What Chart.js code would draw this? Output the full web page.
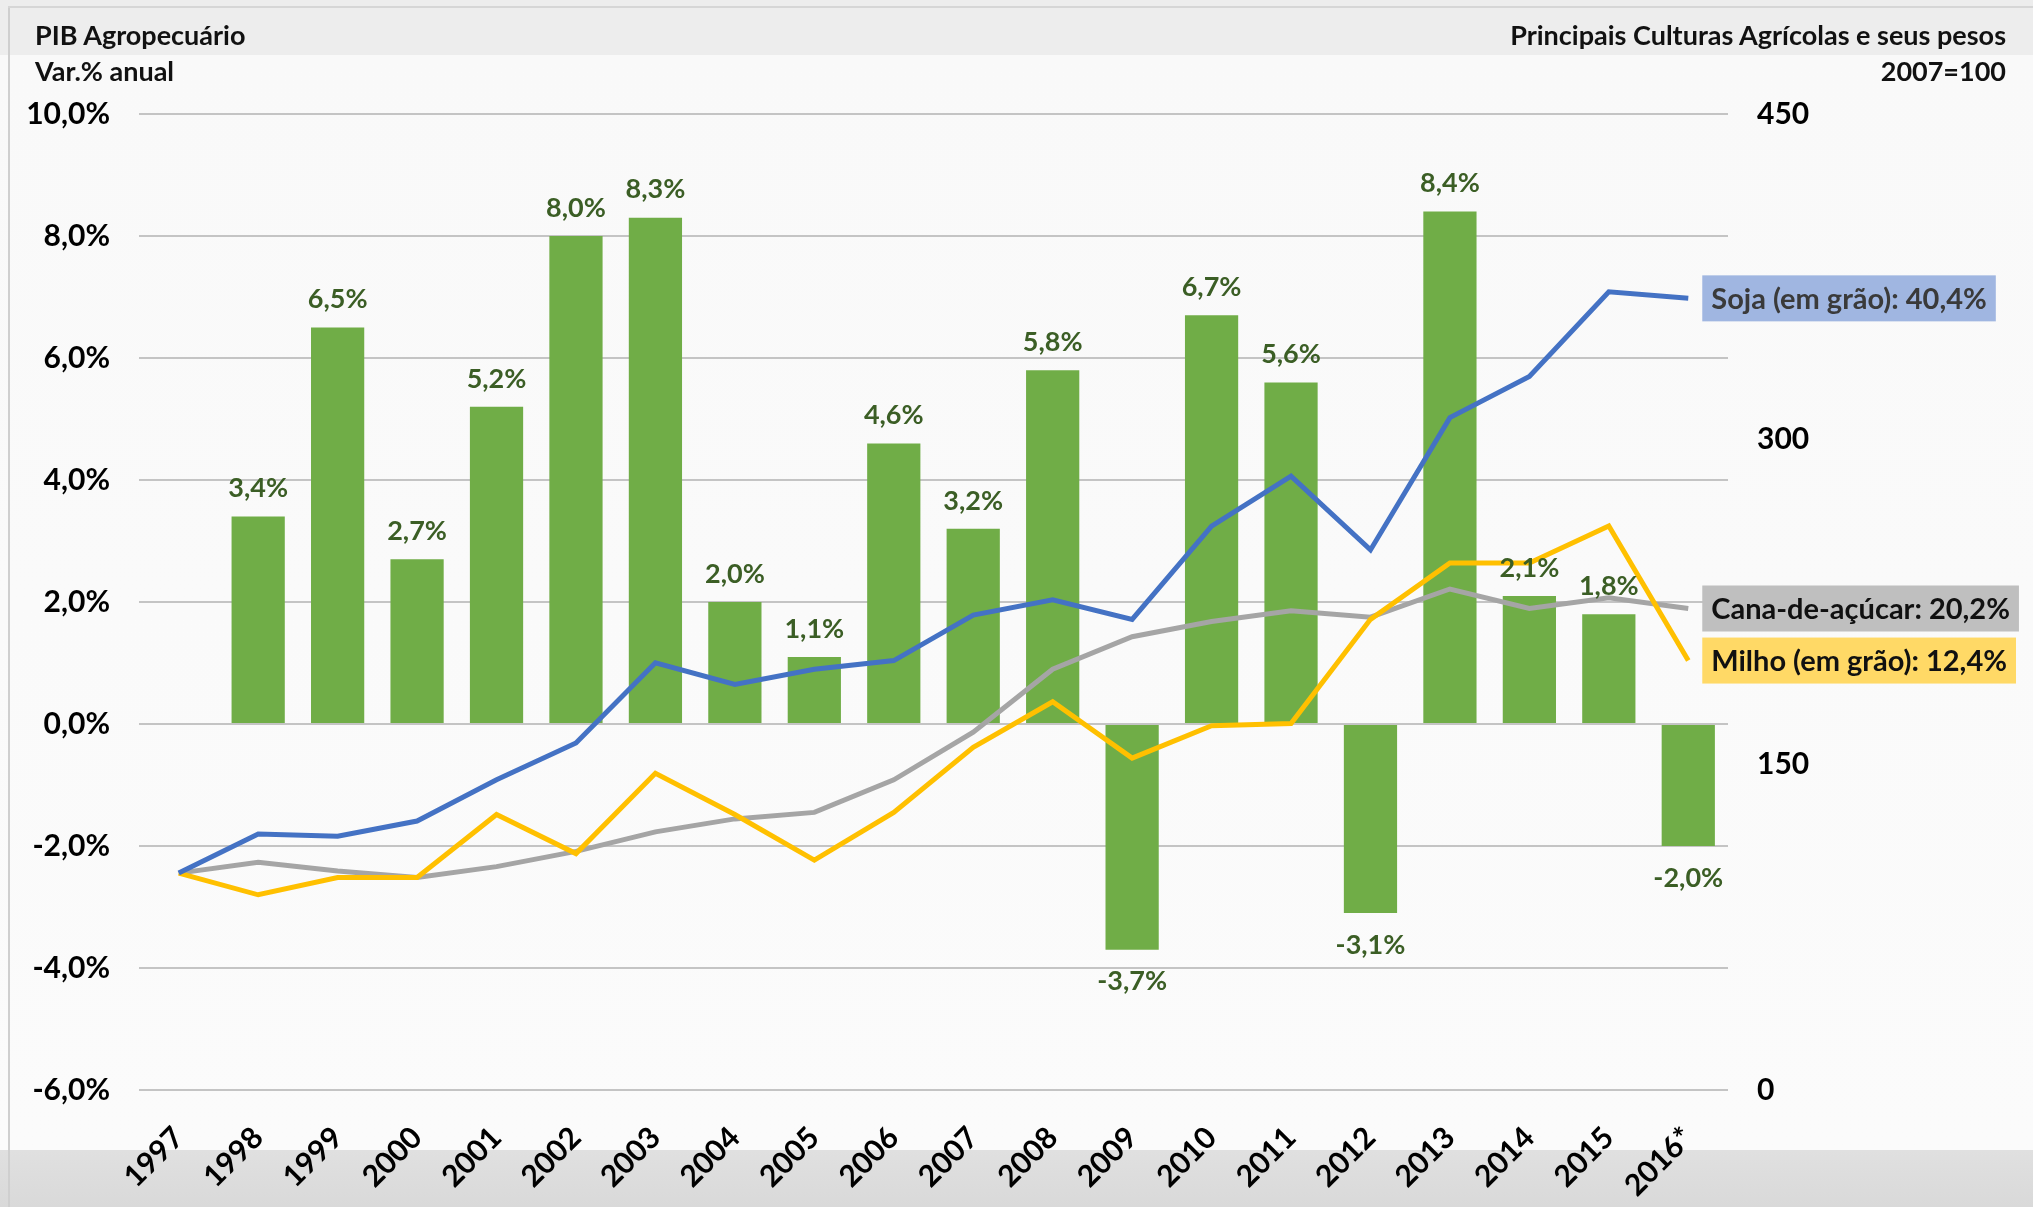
<!DOCTYPE html>
<html>
<head>
<meta charset="utf-8">
<script src="https://cdn.jsdelivr.net/npm/chart.js@4.4.1/dist/chart.umd.min.js"></script>
<style>
    html, body { margin: 0; padding: 0; }
    #wrap {
        position: relative;
        width: 2033px;
        height: 1207px;
        overflow: hidden;
        background: linear-gradient(#ededed 0, #ededed 55px, #f9f9f9 55px, #fbfbfb 1150px, #e0e0e0 1150px, #d9d9d9 1207px);
        font-family: Lato, "Noto Sans", sans-serif;
    }
    #wrap .frame-left { position: absolute; left: 8px; top: 6px; bottom: 0; width: 2px; background: #cfcfcf; }
    #wrap .frame-top { position: absolute; left: 8px; right: 0; top: 6px; height: 2px; background: #d6d6d6; }
    #chart { position: absolute; left: 0; top: 0; }
    .hdr { position: absolute; font-weight: bold; font-size: 27px; color: #111; line-height: 32px; white-space: nowrap; }
</style>
</head>
<body>
<div id="wrap">
    <div class="frame-left"></div>
    <div class="frame-top"></div>
    <canvas id="chart" width="2033" height="1207"></canvas>
    <div class="hdr" style="left:35px; top:19px;">PIB Agropecuário</div>
    <div class="hdr" style="left:35px; top:55px;">Var.% anual</div>
    <div class="hdr" style="right:27px; top:19px; text-align:right;">Principais Culturas Agrícolas e seus pesos</div>
    <div class="hdr" style="right:27px; top:55px; text-align:right;">2007=100</div>
</div>
<script>
// categories
const years = ['1997', '1998', '1999', '2000', '2001', '2002', '2003', '2004', '2005', '2006',
    '2007', '2008', '2009', '2010', '2011', '2012', '2013', '2014', '2015', '2016*'];

// PIB Agropecuário, var.% anual (left axis)
const pibVar = [null, 3.4, 6.5, 2.7, 5.2, 8.0, 8.3, 2.0, 1.1, 4.6,
    3.2, 5.8, -3.7, 6.7, 5.6, -3.1, 8.4, 2.1, 1.8, -2.0];

// crop indices (right axis)
const soja = [100, 118, 117, 124, 143, 160, 197, 187, 194, 198,
    219, 226, 217, 260, 283, 249, 310, 329, 368, 365];
const cana = [100, 105, 101, 98, 103, 110, 119, 125, 128, 143,
    165, 194, 209, 216, 221, 218, 231, 222, 227, 222];
const milho = [100, 90, 98, 98, 127, 109, 146, 127, 106, 128,
    158, 179, 153, 168, 169, 217, 243, 243, 260, 198];

// weights shown at the end of each line
const seriesNames = ['Soja (em grão)', 'Cana-de-açúcar', 'Milho (em grão)'];
const seriesWeights = [40.4, 20.2, 12.4];

// axis ticks
const leftTicks = [-6, -4, -2, 0, 2, 4, 6, 8, 10];
const rightTicks = [0, 150, 300, 450];

const FONT = 'Lato, "Noto Sans", sans-serif';
const pct = v => v.toFixed(1).replace('.', ',') + '%';

// value labels above / below the bars
const barLabels = {
    id: 'barLabels',
    afterDatasetsDraw(chart) {
        const ctx = chart.ctx;
        const meta = chart.getDatasetMeta(0);
        ctx.save();
        ctx.font = 'bold 27px ' + FONT;
        ctx.fillStyle = '#3b5e25';
        ctx.textAlign = 'center';
        ctx.textBaseline = 'middle';
        meta.data.forEach((bar, i) => {
            const v = pibVar[i];
            if (v === null) return;
            const y = v >= 0 ? bar.y - 28 : bar.y + 32;
            ctx.fillText(pct(v), bar.x, y);
        });
        ctx.restore();
    }
};

// coloured boxes next to the last point of each line
const endLabels = {
    id: 'endLabels',
    afterDatasetsDraw(chart) {
        const ctx = chart.ctx;
        const boxColors = ['#a0b6e1', '#bfbfbf', '#ffd966'];
        const textColors = ['#3a3a3a', '#111111', '#111111'];
        ctx.save();
        ctx.font = 'bold 29px ' + FONT;
        ctx.textBaseline = 'middle';
        ctx.textAlign = 'left';
        for (let k = 0; k < 3; k++) {
            const meta = chart.getDatasetMeta(k + 1);
            const pt = meta.data[meta.data.length - 1];
            const text = seriesNames[k] + ': ' + pct(seriesWeights[k]);
            const w = ctx.measureText(text).width + 18;
            const x = pt.x + 14;
            ctx.fillStyle = boxColors[k];
            ctx.fillRect(x, pt.y - 23, w, 46);
            ctx.fillStyle = textColors[k];
            ctx.fillText(text, x + 9, pt.y + 1);
        }
        ctx.restore();
    }
};

const ctx = document.getElementById('chart').getContext('2d');
new Chart(ctx, {
    type: 'bar',
    data: {
        labels: years,
        datasets: [{
            label: 'PIB Agropecuário',
            data: pibVar,
            backgroundColor: '#70ad47',
            yAxisID: 'y',
            barPercentage: 0.67,
            categoryPercentage: 1,
            order: 3
        }, {
            type: 'line',
            label: seriesNames[0],
            data: soja,
            borderColor: '#4472c4',
            borderWidth: 5,
            pointRadius: 0,
            tension: 0,
            yAxisID: 'y1',
            order: 0
        }, {
            type: 'line',
            label: seriesNames[1],
            data: cana,
            borderColor: '#a5a5a5',
            borderWidth: 5,
            pointRadius: 0,
            tension: 0,
            yAxisID: 'y1',
            order: 2
        }, {
            type: 'line',
            label: seriesNames[2],
            data: milho,
            borderColor: '#ffc000',
            borderWidth: 5,
            pointRadius: 0,
            tension: 0,
            yAxisID: 'y1',
            order: 1
        }]
    },
    options: {
        responsive: false,
        animation: false,
        devicePixelRatio: 1,
        layout: { padding: { top: 114, left: 0, right: 0, bottom: 0 } },
        plugins: {
            legend: { display: false },
            tooltip: { enabled: false }
        },
        scales: {
            x: {
                grid: { display: false },
                border: { display: false },
                ticks: {
                    color: '#000',
                    font: { family: FONT, size: 30, weight: 'bold' },
                    minRotation: 45,
                    maxRotation: 45,
                    padding: 22,
                    autoSkip: false
                },
                afterFit(scale) { scale.height = 1207 - 1090; }
            },
            y: {
                position: 'left',
                min: -6,
                max: 10,
                afterBuildTicks(scale) { scale.ticks = leftTicks.map(v => ({ value: v })); },
                ticks: {
                    color: '#000',
                    font: { family: FONT, size: 30, weight: 'bold' },
                    padding: 29,
                    callback: v => pct(v)
                },
                grid: { color: '#c4c4c4', lineWidth: 2, drawTicks: false },
                border: { display: false },
                afterFit(scale) { scale.width = 139; }
            },
            y1: {
                position: 'right',
                min: 0,
                max: 450,
                afterBuildTicks(scale) { scale.ticks = rightTicks.map(v => ({ value: v })); },
                ticks: {
                    color: '#000',
                    font: { family: FONT, size: 30, weight: 'bold' },
                    padding: 29
                },
                grid: { display: false, drawTicks: false },
                border: { display: false },
                afterFit(scale) { scale.width = 2033 - 1728; }
            }
        }
    },
    plugins: [barLabels, endLabels]
});
</script>
</body>
</html>
